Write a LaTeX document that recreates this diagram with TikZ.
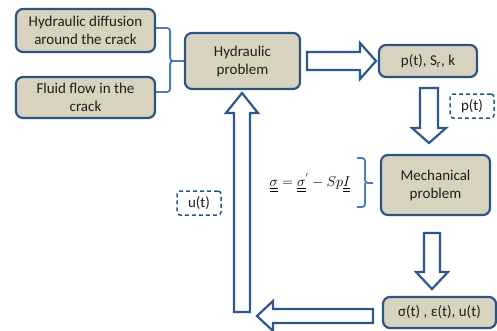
\documentclass[tikz,border=0pt]{standalone}
\usepackage{fontspec}
\setmainfont{Carlito}
\usepackage{amsmath}
\usetikzlibrary{calc}
\definecolor{boxfill}{RGB}{216,211,190}
\definecolor{boxline}{RGB}{44,84,130}
\definecolor{arrline}{RGB}{47,88,138}
\definecolor{bracecol}{RGB}{74,126,187}
\definecolor{txt}{RGB}{30,30,30}
\tikzset{
  rbox/.style={draw=boxline, line width=2.2pt, fill=boxfill, rounded corners=7pt,
    align=center, text=txt, font=\fontsize{15}{18}\selectfont, inner sep=0pt},
  dbox/.style={draw=boxline, line width=1.5pt, dashed, dash pattern=on 4pt off 3pt,
    rounded corners=3pt, text=txt, font=\fontsize{15}{18}\selectfont, inner sep=0pt,
    minimum width=44pt, minimum height=24pt},
  barrow/.style={draw=arrline, line width=2.2pt, fill=white, line join=miter},
  bracket/.style={draw=bracecol, line width=1.9pt, rounded corners=3pt}
}
\begin{document}
\begin{tikzpicture}[x=1pt,y=-1pt]
\useasboundingbox (0,0) rectangle (497,330);
\begin{scope}
\clip (0,0) rectangle (497,330);
% boxes
\node[rbox, minimum width=139pt, minimum height=43pt] (h1) at (85.5,30.5) {Hydraulic diffusion\\around the crack};
\node[rbox, minimum width=139pt, minimum height=41pt] (h2) at (85.5,97.5) {Fluid flow in the\\crack};
\node[rbox, minimum width=115pt, minimum height=56pt] (hyd) at (242.5,61) {Hydraulic\\problem};
\node[rbox, minimum width=98pt, minimum height=32pt] (pst) at (428,61) {p(t), S\textsubscript{r}, k};
\node[rbox, minimum width=109pt, minimum height=60pt] (mech) at (435.5,185) {Mechanical\\problem};
\node[rbox, minimum width=113pt, minimum height=31pt] (sig) at (439.5,312.5) {σ(t) , ε(t), u(t)};
\node[dbox] (pd) at (472,106) {p(t)};
\node[dbox] (ud) at (199,203) {u(t)};
\node[font=\fontsize{14.5}{16}\selectfont, text=black] (eq) at (310,183)
  {$\underline{\underline{\sigma}} = \underline{\underline{\sigma}}^{'} - Sp\underline{\underline{I}}$};
% brackets
\coordinate (bt) at ($(h1.east)+(0,-2.5)$);
\coordinate (bb) at ($(h2.east)+(0,-5.5)$);
\draw[bracket] (bt) -- ++(14,0) |- (hyd.west);
\draw[bracket] (bb) -- ++(14,0) |- (hyd.west);
\draw[bracket] (357,158) -- (365,158) -- (365,183) -- (373,183);
\draw[bracket] (357,207) -- (365,207) -- (365,183);
% block arrows
\draw[barrow] (307,52) -- (360,52) -- (360,43) -- (376,61) -- (360,79) -- (360,70) -- (307,70) -- cycle;
\draw[barrow] (420,88) -- (420,128) -- (412,128) -- (429,143) -- (446,128) -- (438,128) -- (438,88) -- cycle;
\draw[barrow] (424,233) -- (424,272) -- (416,272) -- (432,289) -- (448,272) -- (440,272) -- (440,233) -- cycle;
\draw[barrow] (234,312) -- (234,113) -- (226,113) -- (242,93) -- (258,113) -- (250,113) -- (250,312) -- cycle;
\draw[barrow] (373,309) -- (273,309) -- (273,301) -- (257,316) -- (273,331) -- (273,323) -- (373,323) -- cycle;
\end{scope}
\end{tikzpicture}
\end{document}
